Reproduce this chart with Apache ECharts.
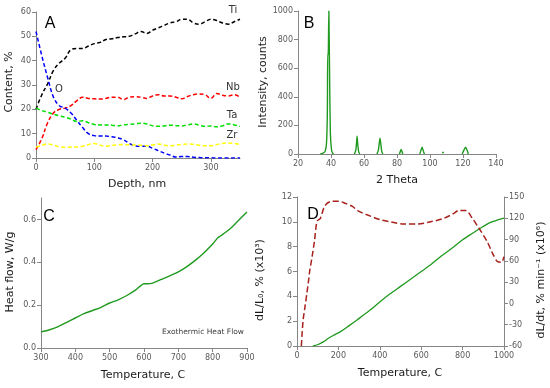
<!DOCTYPE html>
<html><head><meta charset="utf-8">
<script src="https://cdn.jsdelivr.net/npm/echarts@6/dist/echarts.min.js"></script>
<style>html,body{margin:0;padding:0;background:#fff}#c{width:550px;height:388px}</style>
</head><body><div id="c"></div>
<script>
// Panel A: depth profile
const depth = [0,10,20,30,40,50,60,70,80,90,100,110,120,130,140,150,160,170,180,190,200,210,220,230,240,250,260,270,280,290,300,310,320,330,340,350];
const tiA = [20,26,30.5,36,39,41,44.5,45,45,46,47,47.5,48.7,49,49.5,49.8,50,51,52,51.2,52.5,53.5,54.5,55.5,56,57,57,55.5,55,56,57,56.5,55.5,55,56,57];
const nbA = [3.4,8,14.5,18.5,20,20.5,21.5,23.5,25,24.5,24.3,24.2,24.5,25,25,24,25,25.2,25,24.5,25.5,26,25.5,25.5,25,24.3,25.3,26,26.3,26,24.5,26.5,25.8,25.5,26,25];
const oA = [52,42,33,25,21.5,20.5,18.5,15.5,12.5,10,9.2,9,9,8.7,8.3,7.5,6,5,4.8,4.8,4,3,2,1.2,0.4,0.6,0.6,0.3,0.2,0.1,0.1,0,0,0,0,0];
const taA = [20.5,19.5,18.8,18,17.3,16.8,16,15,15.3,14.5,13.8,13.6,13.6,13.5,13.2,13.6,13.8,14,14.3,14,13.2,13,13.2,13.5,13.3,13.2,13.6,14,13.5,13,13.2,12.8,13.2,14,13.6,13];
const zrA = [4.5,5.2,5.8,5.3,4.6,4.4,4.5,4.5,4.8,5.5,6,5.3,4.8,5.2,5.4,5.5,5.4,5.3,5.2,5,5.3,5.8,5.2,5,5.3,5.6,5.8,5.6,5.2,5,5,5.5,6,6.2,6,5.5];
// Panel B: XRD pattern (null = gap between peaks)
const theta = [33.5,35,36.5,37.3,37.8,38.0,38.3,38.7,39.1,39.6,40.3,41,41.6,null,54.2,55,55.5,55.8,56.2,56.8,57.4,null,67.8,68.7,69.3,69.7,70.2,70.8,71.4,null,81.5,82.5,83.5,null,93.8,94.5,95.2,96,96.6,null,107.6,107.9,108.2,null,119.5,120.5,121.5,122.4,123.2];
const counts = [0,5,20,80,300,700,690,1000,600,150,30,5,0,null,0,25,80,125,70,15,0,null,0,25,80,110,70,15,0,null,0,32,0,null,0,25,48,20,0,null,5,12,5,null,0,25,48,30,0];
// Panel C: heat flow
const tempC = [300,325,350,375,400,425,450,475,500,525,550,575,590,600,610,625,650,675,700,725,750,775,800,815,825,850,875,900];
const heatC = [0.075,0.085,0.1,0.12,0.14,0.16,0.175,0.19,0.21,0.225,0.245,0.27,0.29,0.30,0.30,0.303,0.32,0.337,0.355,0.38,0.41,0.445,0.485,0.515,0.525,0.555,0.595,0.635];
// Panel D: dilatometry
const tempDL = [77,100,129,150,175,210,250,290,350,400,450,500,550,600,650,694,750,800,850,887,935,970,1000];
const dLL0 = [0,0.1,0.35,0.6,0.85,1.16,1.62,2.1,2.85,3.55,4.2,4.8,5.4,6.0,6.6,7.2,7.9,8.55,9.1,9.5,9.95,10.15,10.3];
const tempDT = [21,24,29,32,36,40,48,55,61,73,84,97,113,129,145,169,202,234,266,298,355,403,452,516,581,645,710,758,782,815,847,879,919,944,968,987,1000];
const dLdt = [-60,-45,-25,-18,-10,-2,15,30,45,66,87,116,120,134,141,144,144,141,137,130,123,118,115,112,112,115,120,127,131,131,120,106,87,71,59,58,66];

const zip = (a,b) => a.map((v,i) => v === null ? [null,null] : [v,b[i]]);
const FONT = 'DejaVu Sans';
const axCol = '#868686';
function lab(extra){
  return Object.assign({color:'#595959',fontSize:8,fontFamily:FONT,margin:5,formatter:v=>String(v)}, extra||{});
}
function ax(extra){
  return Object.assign({
    type:'value',
    axisLine:{show:true,onZero:false,lineStyle:{color:axCol,width:1}},
    axisTick:{show:true,inside:false,length:4,lineStyle:{color:axCol}},
    axisLabel:lab({margin:6}),
    splitLine:{show:false}
  }, extra);
}
function title(text,x,y,rot,size){
  return {type:'text',x:x,y:y,rotation:rot?Math.PI/2:0,
    style:{text:text,font:(size||10)+'px "'+FONT+'"',fill:'#1a1a1a',textAlign:'center',textVerticalAlign:'middle'}};
}
function letter(t,x,y){
  return {type:'text',x:x,y:y,style:{text:t,font:'16px "Liberation Sans"',fill:'#000',textAlign:'center',textVerticalAlign:'middle'}};
}
function note(t,x,y){
  return {type:'text',x:x,y:y,style:{text:t,font:'10px "'+FONT+'"',fill:'#333',textAlign:'center',textVerticalAlign:'middle'}};
}
const dash = (c) => ({color:c,width:1.5,type:[4,2.5]});
const chart = echarts.init(document.getElementById('c'));
chart.setOption({
  animation:false,
  grid:[
    {left:36,top:12,width:204,height:146},
    {left:298,top:11,width:198,height:143},
    {left:41,top:198,width:206,height:150},
    {left:297,top:197,width:207,height:149}
  ],
  xAxis:[
    ax({gridIndex:0,min:0,max:350,interval:100,axisLabel:lab({margin:6,showMaxLabel:false})}),
    ax({gridIndex:1,min:20,max:140,interval:20}),
    ax({gridIndex:2,min:300,max:900,interval:100}),
    ax({gridIndex:3,min:0,max:1000,interval:200})
  ],
  yAxis:[
    ax({gridIndex:0,min:0,max:60,interval:10,axisLabel:lab()}),
    ax({gridIndex:1,min:0,max:1000,interval:200,axisLabel:lab()}),
    ax({gridIndex:2,min:0,max:0.7,interval:0.2,axisLabel:lab({showMaxLabel:false,formatter:v=>v.toFixed(1)})}),
    ax({gridIndex:3,min:0,max:12,interval:2,axisLabel:lab()}),
    ax({gridIndex:3,position:'right',min:-60,max:150,interval:30,axisLabel:lab()})
  ],
  series:[
    {type:'line',xAxisIndex:0,yAxisIndex:0,data:zip(depth,tiA),showSymbol:false,smooth:0.4,lineStyle:dash('#000000')},
    {type:'line',xAxisIndex:0,yAxisIndex:0,data:zip(depth,nbA),showSymbol:false,smooth:0.4,lineStyle:dash('#ff0000')},
    {type:'line',xAxisIndex:0,yAxisIndex:0,data:zip(depth,oA),showSymbol:false,smooth:0.4,lineStyle:dash('#0000ff')},
    {type:'line',xAxisIndex:0,yAxisIndex:0,data:zip(depth,taA),showSymbol:false,smooth:0.4,lineStyle:dash('#00dd00')},
    {type:'line',xAxisIndex:0,yAxisIndex:0,data:zip(depth,zrA),showSymbol:false,smooth:0.4,lineStyle:dash('#ffff00')},
    {type:'line',xAxisIndex:1,yAxisIndex:1,data:zip(theta,counts),showSymbol:false,connectNulls:false,smooth:0.2,lineStyle:{color:'#1f9a1f',width:1.4}},
    {type:'line',xAxisIndex:2,yAxisIndex:2,data:zip(tempC,heatC),showSymbol:false,smooth:0.3,lineStyle:{color:'#1f9a1f',width:1.4}},
    {type:'line',xAxisIndex:3,yAxisIndex:3,data:zip(tempDL,dLL0),showSymbol:false,smooth:0.3,lineStyle:{color:'#1f9a1f',width:1.3}},
    {type:'line',xAxisIndex:3,yAxisIndex:4,data:zip(tempDT,dLdt),showSymbol:false,smooth:0.3,lineStyle:{color:'#a8201c',width:1.5,type:[6,3]}}
  ],
  graphic:[
    title('Content, %',9,82,true,11),
    title('Depth, nm',137,184,false,11),
    title('Intensity, counts',263,82,true,11),
    title('2 Theta',397,180,false,11),
    title('Heat flow, W/g',10,272,true,11),
    title('Temperature, C',143,375,false,11),
    title('dL/L\u2080, % (x10\u00b3)',260,280,true,11),
    title('Temperature, C',400,373,false,11),
    title('dL/dt, % min\u207b\u00b9 (x10\u2076)',541,280,true,11),
    letter('A',50,24), letter('B',309,24), letter('C',49,217), letter('D',313,215),
    note('Ti',233,10), note('Nb',233,87), note('O',59,89), note('Ta',232,115), note('Zr',232,135),
    {type:'text',x:203,y:332,style:{text:'Exothermic Heat Flow',font:'7.5px "'+FONT+'"',fill:'#404040',textAlign:'center',textVerticalAlign:'middle'}}
  ]
});
</script></body></html>
